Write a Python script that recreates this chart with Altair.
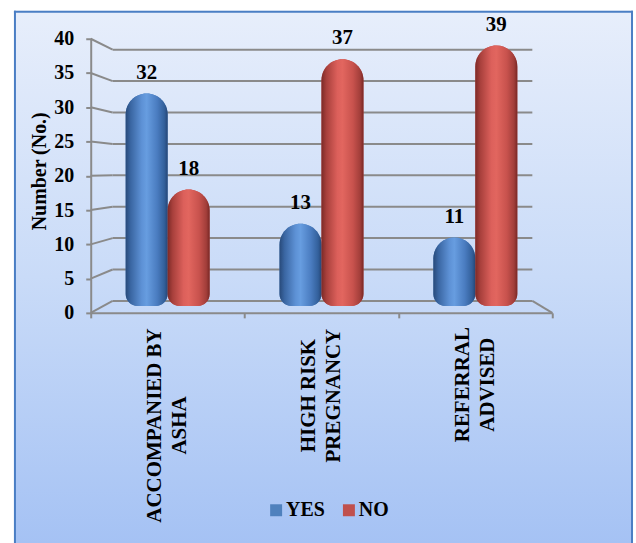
import altair as alt
import pandas as pd

# ---- data ----
categories = ["ACCOMPANIED BY\nASHA", "HIGH RISK\nPREGNANCY", "REFERRAL\nADVISED"]
series = ["YES", "NO"]
yes_values = [32, 13, 11]
no_values = [18, 37, 39]
y_ticks = [0, 5, 10, 15, 20, 25, 30, 35, 40]
y_title = "Number (No.)"
colors = ["#4f81bd", "#c0504d"]

rows = []
for c, yv, nv in zip(categories, yes_values, no_values):
    rows.append({"category": c, "series": "YES", "value": yv})
    rows.append({"category": c, "series": "NO", "value": nv})
df = pd.DataFrame(rows)
cat_df = pd.DataFrame({"category": categories, "idx": list(range(len(categories)))})
grid_df = pd.DataFrame({"v": y_ticks})
one = pd.DataFrame({"k": [0]})
title_df = pd.DataFrame({"t": [y_title]})

FONT = "Liberation Serif"
GRID = "#8a8a8a"
BACK = "(12 + 6.3*datum.v)/6.875"  # back-wall (perspective) position of each gridline
LABEL_CENTER = [388, 358, 347]      # vertical centre of each rotated category label (style)

yscale = alt.Scale(domain=[0, 40], nice=False, zero=True)
xscale = alt.Scale(domain=categories, paddingInner=0, paddingOuter=0)


def grad(stops, vertical=False):
    return alt.LinearGradient(
        gradient="linear",
        stops=[alt.GradientStop(color=c, offset=o) for o, c in stops],
        x1=0, y1=0,
        x2=0 if vertical else 1,
        y2=1 if vertical else 0,
    )


bg_grad = grad([(0, "#e7eefb"), (0.5, "#c9dbf8"), (1, "#a5c2f4")], vertical=True)
blue_grad = grad([(0, "#284a7a"), (0.12, "#3a66a2"), (0.38, "#5d91d5"),
                  (0.5, "#679de0"), (0.75, "#4a7cc0"), (0.92, "#33609b"), (1, "#264676")])
red_grad = grad([(0, "#7c2a27"), (0.12, "#a8403c"), (0.38, "#dc605b"),
                 (0.5, "#e2665f"), (0.75, "#c8524d"), (0.92, "#a23e3a"), (1, "#792825")])

x_axis = alt.Axis(
    title=None, labels=False, tickBand="extent", tickSize=5, tickColor=GRID,
    tickWidth=2, domainColor=GRID, domainWidth=2, grid=False, zindex=1,
)
y_axis = alt.Axis(
    values=y_ticks, title=None,
    labelFont=FONT, labelFontSize=20, labelFontWeight="bold", labelColor="black",
    labelPadding=12, labelOverlap=False, tickSize=5, tickColor=GRID, tickWidth=2,
    domainColor=GRID, domainWidth=2, grid=False, zindex=1,
)

# background frame
bg = alt.Chart(one).mark_rect(color=bg_grad).encode(
    x=alt.value(-77), x2=alt.value(544), y=alt.value(-28), y2=alt.value(506)
)
border_l = alt.Chart(one).mark_rule(color="#4a7ec4", strokeWidth=2).encode(
    x=alt.value(-76), y=alt.value(-28), y2=alt.value(506))
border_t = alt.Chart(one).mark_rule(color="#4a7ec4", strokeWidth=2).encode(
    x=alt.value(-77), x2=alt.value(544), y=alt.value(-27))
border_r = alt.Chart(one).mark_rule(color="#4a7ec4", strokeWidth=2).encode(
    x=alt.value(543), y=alt.value(-28), y2=alt.value(506))

# y axis title (rotated)
y_title_mark = alt.Chart(title_df).mark_text(
    angle=270, align="center", baseline="middle",
    font=FONT, fontSize=20, fontWeight="bold", color="black",
).encode(x=alt.value(-51), y=alt.value(133), text="t:N")

# back wall gridlines
back_grid = alt.Chart(grid_df).transform_calculate(vb=BACK).mark_rule(
    color=GRID, strokeWidth=2
).encode(
    y=alt.Y("vb:Q", scale=yscale, axis=y_axis),
    x=alt.value(22), x2=alt.value(443),
)
# diagonals from front axis to back wall
diag = alt.Chart(grid_df).transform_calculate(vb=BACK).mark_rule(
    color=GRID, strokeWidth=2
).encode(
    y=alt.Y("v:Q", scale=yscale, axis=y_axis),
    y2="vb:Q",
    x=alt.value(0), x2=alt.value(22),
)
floor_r = alt.Chart(grid_df).transform_filter("datum.v == 0").transform_calculate(
    vb=BACK
).mark_rule(color=GRID, strokeWidth=2).encode(
    y=alt.Y("vb:Q", scale=yscale, axis=y_axis),
    y2="v:Q",
    x=alt.value(443), x2=alt.value(463),
)

bar_x = alt.X("category:N", sort=categories, scale=xscale, axis=x_axis)
bar_xo = alt.XOffset("series:N", sort=series,
                     scale=alt.Scale(domain=series, paddingInner=0, paddingOuter=0.833))
bar_y = alt.Y("value:Q", scale=yscale, axis=y_axis)

corner = dict(cornerRadiusTopLeft=21, cornerRadiusTopRight=21,
              cornerRadiusBottomLeft=12, cornerRadiusBottomRight=12)

base_bars = alt.Chart(df).mark_bar(**corner).encode(
    x=bar_x, xOffset=bar_xo, y=bar_y, y2=alt.datum(1),
    color=alt.Color(
        "series:N", sort=series, scale=alt.Scale(domain=series, range=colors),
        legend=alt.Legend(
            title=None, orient="none", legendX=176, legendY=463, direction="horizontal",
            symbolType="square", symbolSize=144, symbolStrokeWidth=0,
            labelFont=FONT, labelFontSize=20, labelFontWeight="bold", labelColor="black",
            labelOffset=0, columnPadding=14, padding=0,
        ),
    ),
)
blue_bars = alt.Chart(df).transform_filter("datum.series == 'YES'").mark_bar(
    color=blue_grad, **corner
).encode(x=bar_x, xOffset=bar_xo, y=bar_y, y2=alt.datum(1))
red_bars = alt.Chart(df).transform_filter("datum.series == 'NO'").mark_bar(
    color=red_grad, **corner
).encode(x=bar_x, xOffset=bar_xo, y=bar_y, y2=alt.datum(1))

labels = alt.Chart(df).mark_text(
    dy=-21, font=FONT, fontSize=21, fontWeight="bold", color="black", baseline="middle"
).encode(x=bar_x, xOffset=bar_xo, y=bar_y, text="value:Q")

# rotated, two-line category labels (lines centred on each other)
cat_labels = [
    alt.Chart(cat_df).transform_filter(f"datum.idx == {i}").mark_text(
        angle=270, align="center", baseline="middle", lineBreak="\n", lineHeight=25,
        dy=-12.5, font=FONT, fontSize=21, fontWeight="bold", color="black",
    ).encode(x=bar_x, y=alt.value(LABEL_CENTER[i]), text="category:N")
    for i in range(len(categories))
]

chart = alt.layer(
    bg, border_l, border_t, border_r, y_title_mark, back_grid, diag, floor_r,
    base_bars, blue_bars, red_bars, labels, *cat_labels,
).properties(
    width=463, height=275,
    padding={"left": 13, "top": 9, "right": 2, "bottom": 0},
).configure_view(stroke=None)

chart.save("out.html", embed_options={"renderer": "svg", "actions": False})
